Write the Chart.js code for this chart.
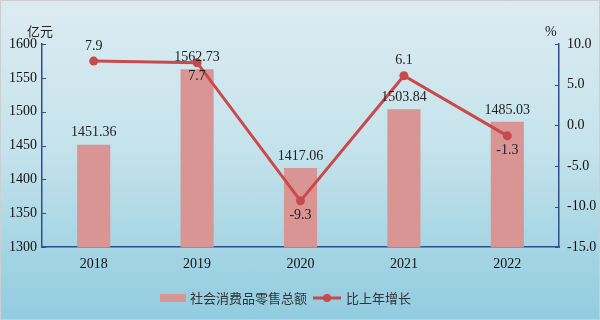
<!DOCTYPE html>
<html>
<head>
<meta charset="utf-8">
<script src="https://cdn.jsdelivr.net/npm/chart.js"></script>
<style>
  html, body { margin: 0; padding: 0; }
  #wrap {
    position: relative; width: 598px; height: 318px;
    border: 1px solid #c9cfd2;
    background: linear-gradient(to bottom, #dcebf1 0%, #c6e3ec 45%, #9fd2e2 85%, #93cce0 100%);
  }
  canvas { display: block; }
</style>
</head>
<body>
<div id="wrap"><canvas id="c" width="598" height="318"></canvas></div>
<script>
// data
const years = ['2018', '2019', '2020', '2021', '2022'];
const retailSales = [1451.36, 1562.73, 1417.06, 1503.84, 1485.03];
const growthRate = [7.9, 7.7, -9.3, 6.1, -1.3];
const growthLabelPos = ['above', 'below', 'below', 'above', 'below'];
const leftTicks = [1300, 1350, 1400, 1450, 1500, 1550, 1600];
const rightTicks = [-15, -10, -5, 0, 5, 10];

const barColor = '#d99494';
const lineColor = '#c94a4c';
const axisColor = '#2e4f8e';
const serif = '"Liberation Serif", serif';
const cjk = '"Noto Sans CJK SC", sans-serif';
const tickFont = { family: serif, size: 14 };

const decor = {
  id: 'decor',
  afterDraw(chart) {
    const ctx = chart.ctx;
    const area = chart.chartArea;
    const yl = chart.scales.y, yr = chart.scales.y1;
    ctx.save();
    // inward tick marks
    ctx.strokeStyle = axisColor;
    ctx.lineWidth = 1;
    leftTicks.forEach(v => {
      const y = Math.round(yl.getPixelForValue(v)) + 0.5;
      ctx.beginPath(); ctx.moveTo(area.left, y); ctx.lineTo(area.left + 4, y); ctx.stroke();
    });
    rightTicks.forEach(v => {
      const y = Math.round(yr.getPixelForValue(v)) + 0.5;
      ctx.beginPath(); ctx.moveTo(area.right, y); ctx.lineTo(area.right - 4, y); ctx.stroke();
    });
    // units
    ctx.fillStyle = '#222';
    ctx.font = '13px ' + cjk;
    ctx.textAlign = 'left'; ctx.textBaseline = 'middle';
    ctx.fillText('亿元', 26, 30);
    ctx.font = '14px ' + serif;
    ctx.fillText('%', 544, 31);

    // bar value labels
    const barMeta = chart.getDatasetMeta(0);
    ctx.font = '14px ' + serif;
    ctx.textAlign = 'center'; ctx.textBaseline = 'bottom';
    barMeta.data.forEach((el, i) => {
      ctx.fillText(retailSales[i].toFixed(2), el.x, el.y - 5);
    });
    // line value labels
    const lineMeta = chart.getDatasetMeta(1);
    lineMeta.data.forEach((el, i) => {
      if (growthLabelPos[i] === 'above') {
        ctx.textBaseline = 'bottom';
        ctx.fillText(growthRate[i].toFixed(1), el.x, el.y - 8);
      } else {
        ctx.textBaseline = 'top';
        ctx.fillText(growthRate[i].toFixed(1), el.x, el.y + 7);
      }
    });

    // legend
    ctx.fillStyle = barColor;
    ctx.fillRect(159, 293, 26, 8);
    ctx.fillStyle = '#333';
    ctx.font = '13px ' + cjk;
    ctx.textAlign = 'left'; ctx.textBaseline = 'middle';
    ctx.fillText('社会消费品零售总额', 189, 297);
    ctx.strokeStyle = lineColor; ctx.lineWidth = 3;
    ctx.beginPath(); ctx.moveTo(312, 297); ctx.lineTo(340, 297); ctx.stroke();
    ctx.fillStyle = lineColor;
    ctx.beginPath(); ctx.arc(326, 297, 4, 0, Math.PI * 2); ctx.fill();
    ctx.fillStyle = '#333';
    ctx.fillText('比上年增长', 345, 297);
    ctx.restore();
  }
};

new Chart(document.getElementById('c'), {
  data: {
    labels: years,
    datasets: [
      {
        type: 'bar', label: '社会消费品零售总额', data: retailSales,
        backgroundColor: barColor, yAxisID: 'y', order: 2,
        categoryPercentage: 1, barPercentage: 0.32
      },
      {
        type: 'line', label: '比上年增长', data: growthRate,
        borderColor: lineColor, backgroundColor: lineColor, borderWidth: 3,
        pointRadius: 4.5, pointBackgroundColor: lineColor, pointBorderWidth: 0,
        yAxisID: 'y1', order: 1, tension: 0
      }
    ]
  },
  options: {
    responsive: false, animation: false,
    layout: { padding: { left: 0, right: 0, top: 43, bottom: 37 } },
    plugins: { legend: { display: false }, tooltip: { enabled: false } },
    scales: {
      x: {
        grid: { display: false, drawTicks: false },
        border: { color: axisColor, width: 1.5 },
        ticks: { color: '#111', font: tickFont, padding: 9 }
      },
      y: {
        position: 'left', min: 1300, max: 1600,
        afterFit(s) { s.width = 41; },
        grid: { display: false, drawTicks: false },
        border: { color: axisColor, width: 1.5 },
        ticks: { stepSize: 50, color: '#111', font: tickFont, padding: 5, callback: v => String(v) }
      },
      y1: {
        position: 'right', min: -15, max: 10,
        afterFit(s) { s.width = 40; },
        grid: { display: false, drawTicks: false },
        border: { color: axisColor, width: 1.5 },
        ticks: {
          stepSize: 5, color: '#111', padding: 8, font: tickFont,
          callback: v => Number(v).toFixed(1)
        }
      }
    }
  },
  plugins: [decor]
});
</script>
</body>
</html>
